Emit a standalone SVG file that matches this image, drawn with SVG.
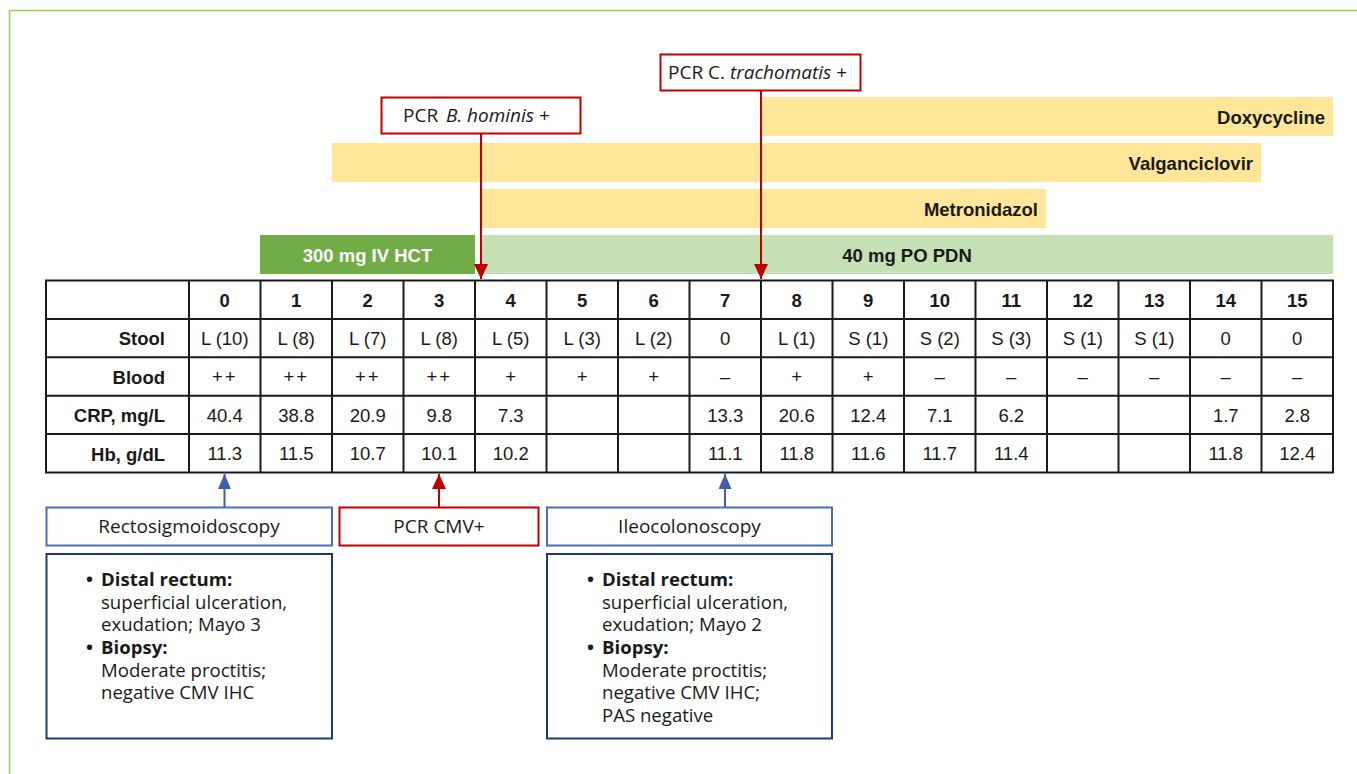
<svg xmlns="http://www.w3.org/2000/svg" width="1357" height="774" viewBox="0 0 1357 774">
<defs>
<style>
.t{font-family:"Liberation Sans",Arial,sans-serif;font-size:18.5px;fill:#1a1a1a}
.b{font-weight:bold}
.c{text-anchor:middle}
.r{text-anchor:end}
.s{font-family:"Open Sans","Noto Sans",sans-serif;font-size:19px;fill:#1a1a1a}
.sc{font-family:"Open Sans","Noto Sans",sans-serif;font-size:18.6px;fill:#1a1a1a}
.sb{font-weight:bold}
.yel{fill:#FFE699}
.grid{fill:none;stroke:#1a1a1a;stroke-width:2}
.red{fill:#fff;stroke:#C00000;stroke-width:2}
.blu{fill:#fff;stroke:#4A6DB5;stroke-width:2}
.nav{fill:#fff;stroke:#1F3A73;stroke-width:2}
.ra{stroke:#C00000;stroke-width:2;fill:none}
.ba{stroke:#3F5FA8;stroke-width:2;fill:none}
</style>
<marker id="mr" markerUnits="userSpaceOnUse" markerWidth="15" markerHeight="14" refX="15" refY="7" orient="auto">
<path d="M0,0 L15,7 L0,14 z" fill="#C00000"/>
</marker>
<marker id="mb" markerUnits="userSpaceOnUse" markerWidth="15" markerHeight="13" refX="15" refY="6.5" orient="auto">
<path d="M0,0 L15,6.5 L0,13 z" fill="#3F5FA8"/>
</marker>
</defs>
<rect x="0" y="0" width="1357" height="774" fill="#fff"/>
<rect x="9.5" y="10.5" width="1400" height="800" fill="none" stroke="#92D050" stroke-width="1.5"/>

<g id="bar-doxycycline">
<rect class="yel" x="761" y="97" width="572" height="39"/>
<text class="t b r" x="1325" y="124">Doxycycline</text>
</g>
<g id="bar-valganciclovir">
<rect class="yel" x="332" y="143" width="929" height="39"/>
<text class="t b r" x="1253" y="170">Valganciclovir</text>
</g>
<g id="bar-metronidazol">
<rect class="yel" x="482" y="189" width="564" height="39"/>
<text class="t b r" x="1038" y="216">Metronidazol</text>
</g>
<g id="bar-hct">
<rect x="260" y="235" width="215" height="39" fill="#70AD47"/>
<text class="t b c" x="367.5" y="262" style="fill:#fff">300 mg IV HCT</text>
</g>
<g id="bar-pdn">
<rect x="482" y="235" width="851" height="39" fill="#C5E0B4"/>
<text class="t b c" x="907" y="262">40 mg PO PDN</text>
</g>

<g id="pcr-bhominis">
<rect class="red" x="381.5" y="97.5" width="199" height="36"/>
<text class="s" x="403" y="122">PCR <tspan x="446" font-style="italic">B. hominis</tspan> +</text>
</g>
<g id="pcr-ctrachomatis">
<rect class="red" x="660.5" y="54.5" width="200" height="36"/>
<text class="s" x="668" y="79">PCR C. <tspan font-style="italic">trachomatis</tspan> +</text>
</g>

<g id="table">
<rect class="grid" x="46" y="280.5" width="1287" height="192"/>
<path class="grid" d="M46,318.9H1333M46,357.3H1333M46,395.7H1333M46,434.1H1333
M189,280.5V472.5M260.5,280.5V472.5M332,280.5V472.5M403.5,280.5V472.5M475,280.5V472.5M546.5,280.5V472.5M618,280.5V472.5M689.5,280.5V472.5M761,280.5V472.5M832.5,280.5V472.5M904,280.5V472.5M975.5,280.5V472.5M1047,280.5V472.5M1118.5,280.5V472.5M1190,280.5V472.5M1261.5,280.5V472.5"/>
<g class="t b c">
<text x="224.75" y="307">0</text><text x="296.25" y="307">1</text><text x="367.75" y="307">2</text><text x="439.25" y="307">3</text><text x="510.75" y="307">4</text><text x="582.25" y="307">5</text><text x="653.75" y="307">6</text><text x="725.25" y="307">7</text><text x="796.75" y="307">8</text><text x="868.25" y="307">9</text><text x="939.75" y="307">10</text><text x="1011.25" y="307">11</text><text x="1082.75" y="307">12</text><text x="1154.25" y="307">13</text><text x="1225.75" y="307">14</text><text x="1297.25" y="307">15</text>
</g>
<g class="t b r">
<text x="165" y="345">Stool</text>
<text x="165" y="384">Blood</text>
<text x="165" y="422">CRP, mg/L</text>
<text x="165" y="461">Hb, g/dL</text>
</g>
<g class="t c">
<text x="224.75" y="345">L (10)</text><text x="296.25" y="345">L (8)</text><text x="367.75" y="345">L (7)</text><text x="439.25" y="345">L (8)</text><text x="510.75" y="345">L (5)</text><text x="582.25" y="345">L (3)</text><text x="653.75" y="345">L (2)</text><text x="725.25" y="345">0</text><text x="796.75" y="345">L (1)</text><text x="868.25" y="345">S (1)</text><text x="939.75" y="345">S (2)</text><text x="1011.25" y="345">S (3)</text><text x="1082.75" y="345">S (1)</text><text x="1154.25" y="345">S (1)</text><text x="1225.75" y="345">0</text><text x="1297.25" y="345">0</text>
<text x="224.75" y="383" letter-spacing="2">++</text><text x="296.25" y="383" letter-spacing="2">++</text><text x="367.75" y="383" letter-spacing="2">++</text><text x="439.25" y="383" letter-spacing="2">++</text><text x="510.75" y="383">+</text><text x="582.25" y="383">+</text><text x="653.75" y="383">+</text><text x="725.25" y="383">–</text><text x="796.75" y="383">+</text><text x="868.25" y="383">+</text><text x="939.75" y="383">–</text><text x="1011.25" y="383">–</text><text x="1082.75" y="383">–</text><text x="1154.25" y="383">–</text><text x="1225.75" y="383">–</text><text x="1297.25" y="383">–</text>
<text x="224.75" y="422">40.4</text><text x="296.25" y="422">38.8</text><text x="367.75" y="422">20.9</text><text x="439.25" y="422">9.8</text><text x="510.75" y="422">7.3</text><text x="725.25" y="422">13.3</text><text x="796.75" y="422">20.6</text><text x="868.25" y="422">12.4</text><text x="939.75" y="422">7.1</text><text x="1011.25" y="422">6.2</text><text x="1225.75" y="422">1.7</text><text x="1297.25" y="422">2.8</text>
<text x="224.75" y="460">11.3</text><text x="296.25" y="460">11.5</text><text x="367.75" y="460">10.7</text><text x="439.25" y="460">10.1</text><text x="510.75" y="460">10.2</text><text x="725.25" y="460">11.1</text><text x="796.75" y="460">11.8</text><text x="868.25" y="460">11.6</text><text x="939.75" y="460">11.7</text><text x="1011.25" y="460">11.4</text><text x="1225.75" y="460">11.8</text><text x="1297.25" y="460">12.4</text>
</g>
</g>

<g id="rectosigmoidoscopy">
<rect class="blu" x="46.5" y="507.5" width="285.5" height="38"/>
<text class="s c" x="189" y="533">Rectosigmoidoscopy</text>
</g>
<g id="pcr-cmv">
<rect class="red" x="339.5" y="507.5" width="199" height="38"/>
<text class="s c" x="439" y="533">PCR CMV+</text>
</g>
<g id="ileocolonoscopy">
<rect class="blu" x="547" y="507.5" width="285" height="38"/>
<text class="s c" x="689.5" y="533">Ileocolonoscopy</text>
</g>

<g id="findings-rectosigmoidoscopy">
<rect class="nav" x="46.5" y="554" width="285.5" height="184.5"/>
<g class="sc">
<text class="sb" x="86" y="586">•</text>
<text class="sb" x="101" y="586">Distal rectum:</text>
<text x="101" y="608.5">superficial ulceration,</text>
<text x="101" y="631">exudation; Mayo 3</text>
<text class="sb" x="86" y="654">•</text>
<text class="sb" x="101" y="654">Biopsy:</text>
<text x="101" y="676.5">Moderate proctitis;</text>
<text x="101" y="699">negative CMV IHC</text>
</g>
</g>
<g id="findings-ileocolonoscopy">
<rect class="nav" x="547" y="554" width="285" height="184.5"/>
<g class="sc">
<text class="sb" x="587" y="586">•</text>
<text class="sb" x="602" y="586">Distal rectum:</text>
<text x="602" y="608.5">superficial ulceration,</text>
<text x="602" y="631">exudation; Mayo 2</text>
<text class="sb" x="587" y="654">•</text>
<text class="sb" x="602" y="654">Biopsy:</text>
<text x="602" y="676.5">Moderate proctitis;</text>
<text x="602" y="699">negative CMV IHC;</text>
<text x="602" y="721.5">PAS negative</text>
</g>
</g>

<g id="connectors">
<line class="ra" x1="481" y1="134" x2="481" y2="279" marker-end="url(#mr)"/>
<line class="ra" x1="761" y1="91" x2="761" y2="279" marker-end="url(#mr)"/>
<line class="ba" x1="224.5" y1="507" x2="224.5" y2="474" marker-end="url(#mb)"/>
<line class="ra" x1="439" y1="507" x2="439" y2="474" marker-end="url(#mr)"/>
<line class="ba" x1="725" y1="507" x2="725" y2="474" marker-end="url(#mb)"/>
</g>
</svg>
